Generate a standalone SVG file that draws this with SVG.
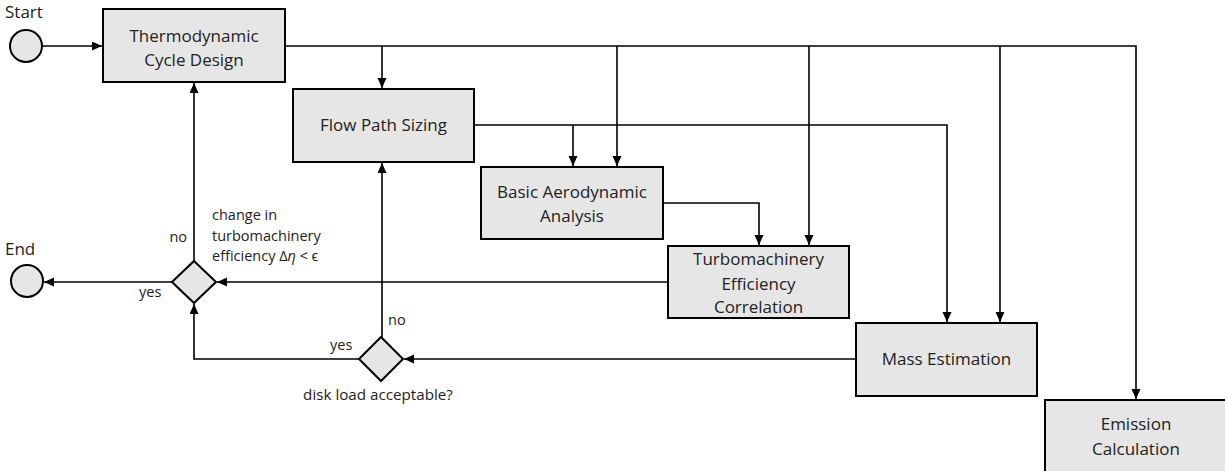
<svg xmlns="http://www.w3.org/2000/svg" width="1225" height="471" viewBox="0 0 1225 471">
<style>
.box{fill:#e6e6e6;stroke:#000;stroke-width:2}
.t{font-family:"Open Sans","Liberation Sans",sans-serif;font-size:17px;fill:#222;text-anchor:middle}
.l{font-family:"Open Sans","Liberation Sans",sans-serif;font-size:14.5px;fill:#222}
.c{fill:none;stroke:#000;stroke-width:1.6}
</style>
<defs>
<marker id="ah" markerUnits="userSpaceOnUse" markerWidth="11" markerHeight="10" refX="10" refY="4.5" orient="auto">
<path d="M0,0 L10,4.5 L0,9 z" fill="#000"/>
</marker>
</defs>
<rect width="1225" height="471" fill="#fff"/>
<g id="connectors">
<path class="c" d="M43,46 H102" marker-end="url(#ah)"/>
<path class="c" d="M285,46 H1136 V399" marker-end="url(#ah)"/>
<path class="c" d="M382,46 V88" marker-end="url(#ah)"/>
<path class="c" d="M617,46 V166" marker-end="url(#ah)"/>
<path class="c" d="M809,46 V245" marker-end="url(#ah)"/>
<path class="c" d="M1000,46 V322" marker-end="url(#ah)"/>
<path class="c" d="M474,125 H947 V322" marker-end="url(#ah)"/>
<path class="c" d="M573,125 V166" marker-end="url(#ah)"/>
<path class="c" d="M663,203 H759 V245" marker-end="url(#ah)"/>
<path class="c" d="M668,282 H217" marker-end="url(#ah)"/>
<path class="c" d="M172,282 H44" marker-end="url(#ah)"/>
<path class="c" d="M194,261 V83" marker-end="url(#ah)"/>
<path class="c" d="M856,359 H404" marker-end="url(#ah)"/>
<path class="c" d="M359,359 H194 V304" marker-end="url(#ah)"/>
<path class="c" d="M382,337 V163" marker-end="url(#ah)"/>
</g>
<g id="start">
<circle cx="26" cy="46" r="16" class="box"/>
<text class="t" x="5" y="18" style="text-anchor:start">Start</text>
</g>
<g id="end">
<circle cx="27" cy="281" r="16" class="box"/>
<text class="t" x="5" y="255" style="text-anchor:start">End</text>
</g>
<g id="thermo">
<rect class="box" x="103" y="9" width="182" height="73"/>
<text class="t" x="194" y="42">Thermodynamic</text>
<text class="t" x="194" y="66">Cycle Design</text>
</g>
<g id="flowpath">
<rect class="box" x="293" y="89" width="181" height="73"/>
<text class="t" x="383.5" y="131">Flow Path Sizing</text>
</g>
<g id="aero">
<rect class="box" x="481" y="167" width="182" height="72"/>
<text class="t" x="572" y="198">Basic Aerodynamic</text>
<text class="t" x="572" y="222">Analysis</text>
</g>
<g id="turbo">
<rect class="box" x="668" y="246" width="181" height="72"/>
<text class="t" x="758.5" y="265">Turbomachinery</text>
<text class="t" x="758.5" y="290">Efficiency</text>
<text class="t" x="758.5" y="313">Correlation</text>
</g>
<g id="mass">
<rect class="box" x="856" y="323" width="181" height="73"/>
<text class="t" x="946.5" y="365">Mass Estimation</text>
</g>
<g id="emission">
<rect class="box" x="1045" y="400" width="185" height="73"/>
<text class="t" x="1136" y="430">Emission</text>
<text class="t" x="1136" y="455">Calculation</text>
</g>
<g id="decision1">
<polygon class="box" points="194,261 216,282 194,303 172,282"/>
<text class="l" x="187" y="242" style="text-anchor:end">no</text>
<text class="l" x="139" y="297">yes</text>
<text class="l" x="212" y="220">change in</text>
<text class="l" x="212" y="241">turbomachinery</text>
<text class="l" x="212" y="261">efficiency Δ<tspan font-style="italic">η</tspan> &lt; ϵ</text>
</g>
<g id="decision2">
<polygon class="box" points="381,337 403,359 381,381 359,359"/>
<text class="l" x="388" y="325">no</text>
<text class="l" x="330" y="350">yes</text>
<text class="l" x="378" y="400" style="text-anchor:middle;font-size:15.2px">disk load acceptable?</text>
</g>
</svg>
